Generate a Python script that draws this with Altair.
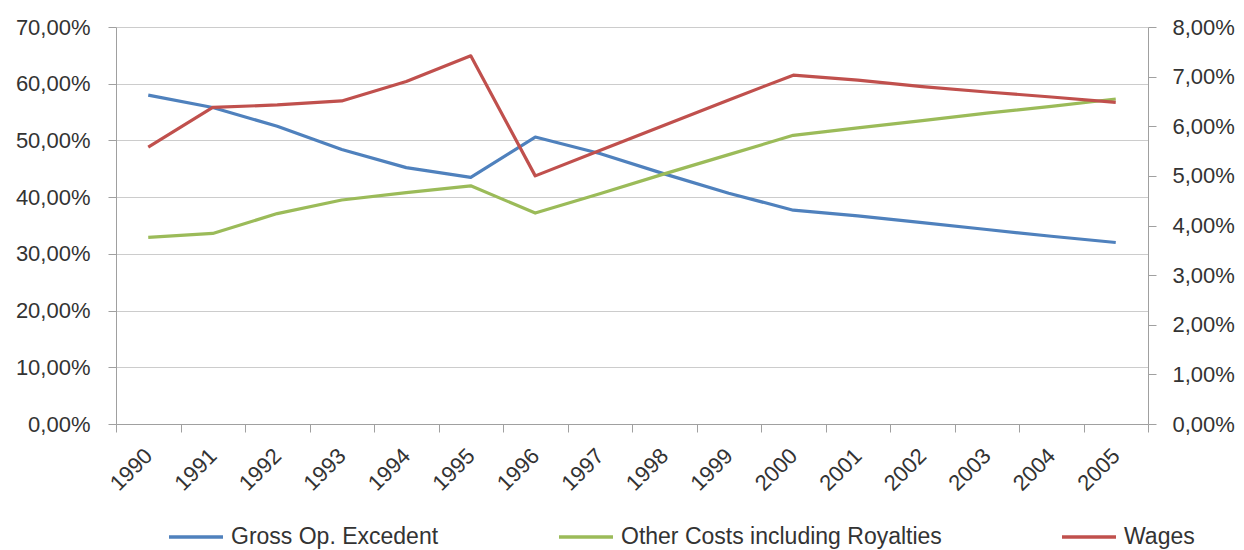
import altair as alt
import pandas as pd

years = [str(y) for y in range(1990, 2006)]
gross_op = [58.0, 55.8, 52.5, 48.4, 45.2, 43.5, 50.6, 47.7, 44.1, 40.7, 37.7, 36.7, 35.5, 34.3, 33.1, 32.0]
other_costs = [32.9, 33.6, 37.1, 39.5, 40.8, 42.0, 37.2, 40.6, 44.1, 47.5, 50.9, 52.2, 53.5, 54.8, 56.0, 57.3]
wages = [5.58, 6.38, 6.43, 6.51, 6.90, 7.42, 5.00, 5.51, 6.02, 6.53, 7.03, 6.93, 6.80, 6.69, 6.59, 6.48]
series = ["Gross Op. Excedent", "Other Costs including Royalties", "Wages"]
colors = ["#4F81BD", "#9BBB59", "#C0504D"]
left_ticks = [0, 10, 20, 30, 40, 50, 60, 70]
right_ticks = [0, 1, 2, 3, 4, 5, 6, 7, 8]

left_df = pd.DataFrame({
    "year": years * 2,
    "value": gross_op + other_costs,
    "series": [series[0]] * len(years) + [series[1]] * len(years),
})
right_df = pd.DataFrame({"year": years, "value": wages, "series": [series[2]] * len(years)})

FONT = "Liberation Sans"
TXT = "#333333"
AX = "#A0A0A0"
GRID = "#CCCCCC"
fmt = "replace(format(datum.value, '.2f'), '.', ',') + '%'"

x_scale = alt.Scale(type="band", paddingInner=0, paddingOuter=0)

x_axis = alt.Axis(
    title=None, tickBand="extent",
    labelAngle=-45, labelAlign="right", labelBaseline="middle",
    labelPadding=20, tickSize=8, tickColor=AX, domainColor=AX,
    labelFontSize=22, labelColor=TXT, labelFont=FONT, grid=False,
)
x_enc = alt.X("year:N", sort=years, bandPosition=0.5, scale=x_scale, axis=x_axis)

color = alt.Color(
    "series:N",
    scale=alt.Scale(domain=series, range=colors),
    legend=alt.Legend(
        title=None, orient="none", legendX=51, legendY=481,
        direction="horizontal", columns=3, symbolType="stroke",
        symbolSize=2916, symbolStrokeWidth=3.5, labelFontSize=23,
        labelFont=FONT, labelColor=TXT, labelOffset=6, columnPadding=113,
        labelLimit=0, padding=0,
    ),
)

left = alt.Chart(left_df).mark_line(strokeWidth=3.2, strokeJoin="round").encode(
    x=x_enc,
    y=alt.Y(
        "value:Q",
        scale=alt.Scale(domain=[0, 70], nice=False),
        axis=alt.Axis(
            title=None, values=left_ticks, labelExpr=fmt, grid=True, gridColor=GRID,
            domainColor=AX, tickColor=AX, tickSize=8, labelPadding=18,
            labelFontSize=22, labelColor=TXT, labelFont=FONT,
        ),
    ),
    color=color,
)

right = alt.Chart(right_df).mark_line(strokeWidth=3.2, strokeJoin="round").encode(
    x=x_enc,
    y=alt.Y(
        "value:Q",
        scale=alt.Scale(domain=[0, 8], nice=False),
        axis=alt.Axis(
            title=None, orient="right", values=right_ticks, labelExpr=fmt, grid=False,
            domainColor=AX, tickColor=AX, tickSize=8, labelPadding=16,
            labelFontSize=22, labelColor=TXT, labelFont=FONT,
        ),
    ),
    color=color,
)

chart = alt.layer(left, right).resolve_scale(y="independent").properties(
    width=1032,
    height=397,
    autosize=alt.AutoSizeParams(type="none"),
    padding={"left": 108, "top": 19, "right": 88, "bottom": 126},
).configure_view(strokeWidth=0)

chart.save("out.html", embed_options={"renderer": "svg", "actions": False})
